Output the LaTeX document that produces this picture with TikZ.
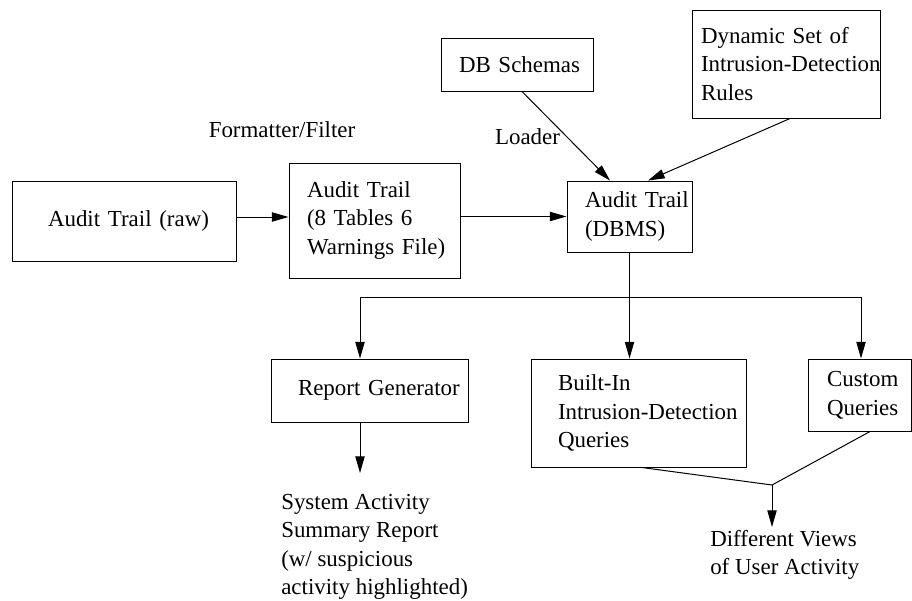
\documentclass[tikz,border=0pt]{standalone}
\usepackage{fontspec}
\setmainfont{Liberation Serif}
\usetikzlibrary{arrows.meta}
\begin{document}
\begin{tikzpicture}[x=0.75pt,y=-0.75pt,
  every node/.style={font=\fontsize{17.2pt}{21.4pt}\selectfont},
  line/.style={line width=0.75pt},
  arr/.style={line width=0.75pt,-{Triangle[length=12.5pt,width=7pt]}},
  box/.style={draw,line width=0.75pt,align=left,inner ysep=0pt,anchor=center},
  txt/.style={inner sep=0pt,align=left}]
\useasboundingbox (0,0) rectangle (912,600);
% boxes
\node[box,text width=114pt,inner xsep=27pt,minimum height=60pt] (raw) at (124,221) {\mbox{Audit Trail (raw)}};
\node[box,text width=101.25pt,inner xsep=13.5pt,minimum height=86.25pt] (fmt) at (374.5,220.5) {Audit Trail\\(8 Tables 6\\\mbox{Warnings File)}};
\node[box,text width=87pt,inner xsep=13.5pt,minimum height=39.75pt] (schemas) at (517,64.5) {\mbox{DB Schemas}};
\node[box,text width=127.5pt,inner xsep=6.75pt,minimum height=81pt] (rules) at (786,64) {\mbox{Dynamic Set of}\\\mbox{Intrusion-Detection}\\Rules};
\node[box,text width=66.75pt,inner xsep=13.5pt,minimum height=53.25pt] (dbms) at (629.5,216.5) {\mbox{Audit Trail}\\(DBMS)};
\node[box,text width=107.25pt,inner xsep=20.25pt,minimum height=47.25pt] (report) at (369.5,390.5) {\mbox{Report Generator}};
\node[box,text width=120.75pt,inner xsep=20.25pt,minimum height=81pt] (builtin) at (638.5,413) {Built-In\\\mbox{Intrusion-Detection}\\Queries};
\node[box,text width=48.75pt,inner xsep=14.25pt,minimum height=54pt] (custom) at (859.5,395) {\mbox{Custom}\\\mbox{Queries}};
% free labels
\node[txt] (formatter) at (282,130) {Formatter/Filter};
\node[txt] (loader) at (527.5,137) {Loader};
\node[txt,anchor=west] (sysact) at (281,547) {System Activity\\Summary Report\\(w/ suspicious\\activity highlighted)};
\node[txt,anchor=west] (views) at (710,555) {Different Views\\of User Activity};
% coordinates
\coordinate (bl) at (360,297);
\coordinate (br) at (861,297);
\coordinate (satip) at (360,473);
\coordinate (jn) at (772,485);
\coordinate (vtip) at (772,527);
% connectors
\draw[arr] ([yshift=3pt]raw.east) -- ([yshift=3pt]raw.east -| fmt.west);
\draw[arr] (fmt.east |- dbms.west) -- (dbms.west);
\draw[arr] ([xshift=3.75pt]schemas.south) -- ([xshift=-14.6pt]dbms.north);
\draw[arr] ([xshift=3pt]rules.south) -- ([xshift=13.9pt]dbms.north);
\draw[arr] (dbms.south) -- (dbms.south |- builtin.north);
\draw[line] (bl) -- (br);
\draw[arr] (bl) -- (bl |- report.north);
\draw[arr] (br) -- (br |- custom.north);
\draw[arr] (bl |- report.south) -- (satip);
\draw[line] ([xshift=2.6pt]builtin.south) -- (jn);
\draw[line] ([xshift=7.9pt]custom.south) -- (jn);
\draw[arr] (jn) -- (vtip);
\end{tikzpicture}
\end{document}
